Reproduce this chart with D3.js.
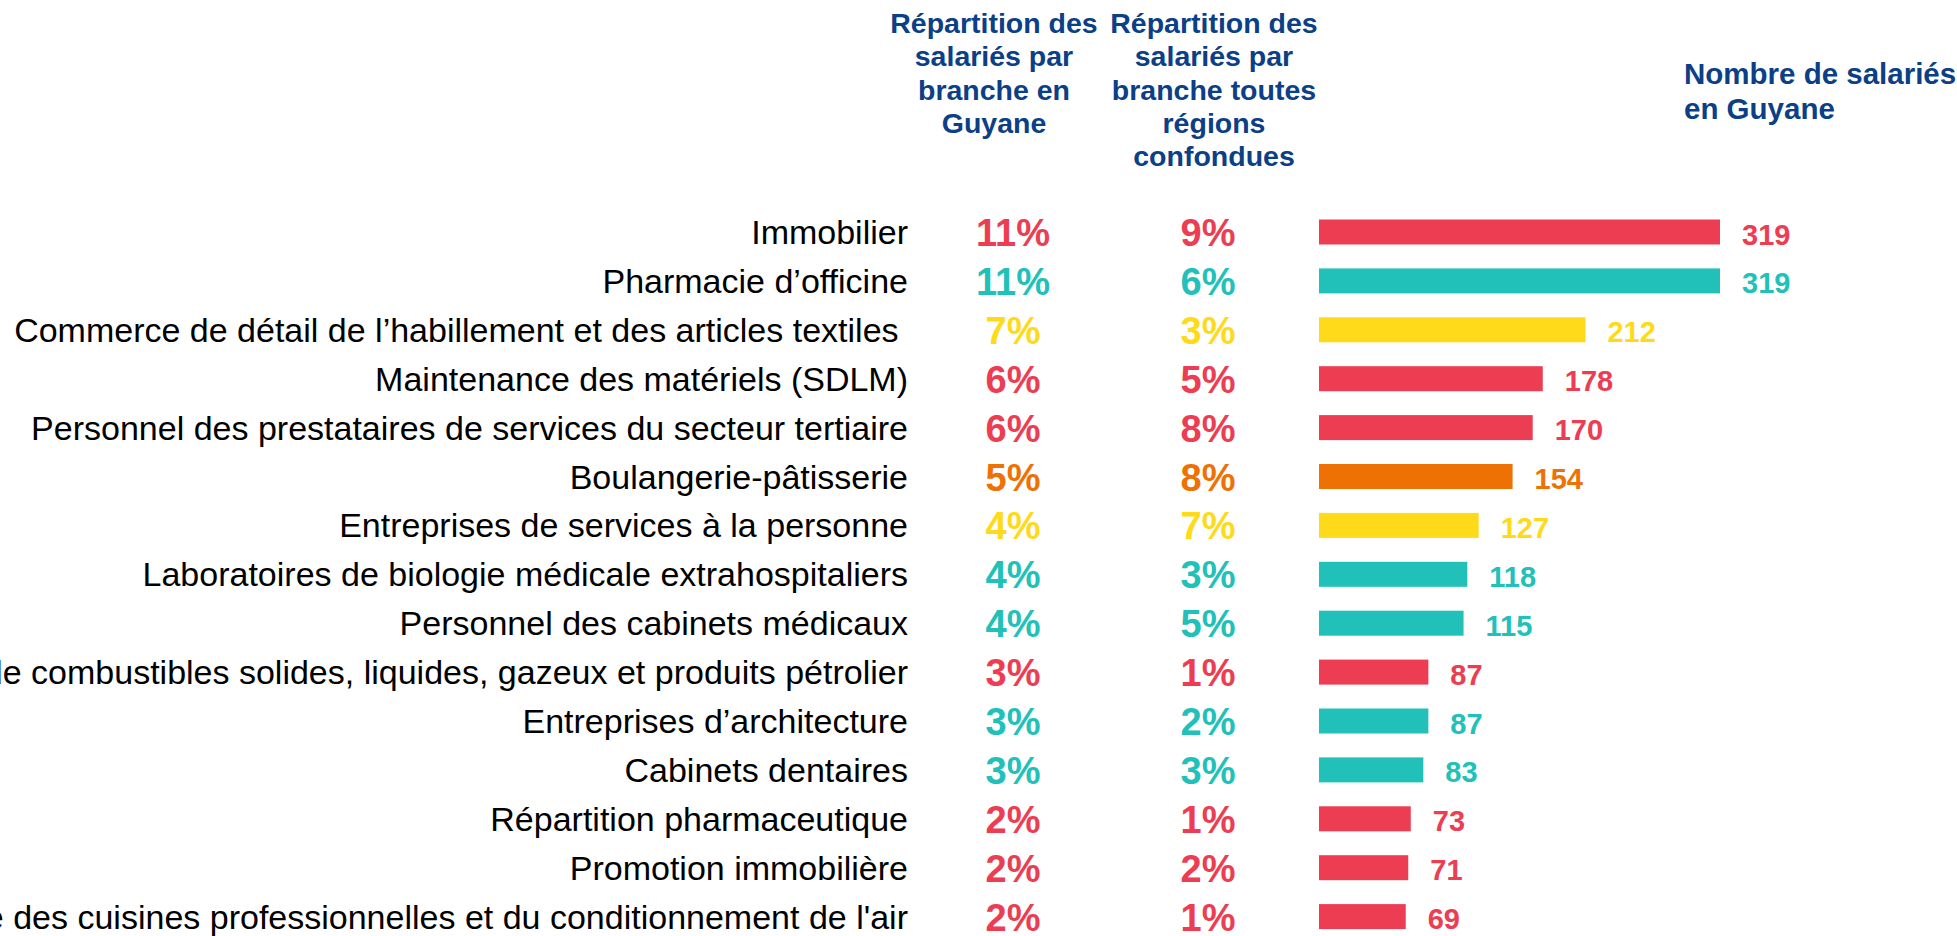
<!DOCTYPE html>
<html>
<head>
<meta charset="utf-8">
<script src="https://cdn.jsdelivr.net/npm/d3@7"></script>
<style>
  body { margin: 0; background: #fff; }
  svg { display: block; font-family: "Liberation Sans", Arial, sans-serif; }
</style>
</head>
<body>
<svg id="chart" width="1957" height="936"></svg>
<script>
// data
const branches = [
  "Immobilier",
  "Pharmacie d’officine",
  "Commerce de détail de l’habillement et des articles textiles ",
  "Maintenance des matériels (SDLM)",
  "Personnel des prestataires de services du secteur tertiaire",
  "Boulangerie-pâtisserie",
  "Entreprises de services à la personne",
  "Laboratoires de biologie médicale extrahospitaliers",
  "Personnel des cabinets médicaux",
  "Commerce de gros de combustibles solides, liquides, gazeux et produits pétrolier",
  "Entreprises d’architecture",
  "Cabinets dentaires",
  "Répartition pharmaceutique",
  "Promotion immobilière",
  "Installation et maintenance des cuisines professionnelles et du conditionnement de l'air"
]
const salaries = [319, 319, 212, 178, 170, 154, 127, 118, 115, 87, 87, 83, 73, 71, 69]
const partGuyane = [11, 11, 7, 6, 6, 5, 4, 4, 4, 3, 3, 3, 2, 2, 2]
const partToutes = [9, 6, 3, 5, 8, 8, 7, 3, 5, 1, 2, 3, 1, 2, 1]
const groupe = ["r", "t", "y", "r", "r", "o", "y", "t", "t", "r", "t", "t", "r", "r", "r"]

const header1 = ["Répartition des", "salariés par", "branche en", "Guyane"]
const header2 = ["Répartition des", "salariés par", "branche toutes", "régions", "confondues"]
const header3 = ["Nombre de salariés", "en Guyane"]

const colors = {r: "#EC3D52", t: "#21C1BA", y: "#FFDA1A", o: "#EE7203"}
const blue = "#0B4086"

const rows = branches.map((b, i) => ({
  name: b, n: salaries[i], g: partGuyane[i], all: partToutes[i], c: colors[groupe[i]]
}))

const svg = d3.select('#chart')

const y = d3.scalePoint()
  .domain(branches)
  .range([232, 916.6])

const x = d3.scaleLinear()
  .domain([0, 319])
  .range([1319, 1720])

const barH = 25

// headers
function header(lines, cx, anchor, y0, step, size) {
  svg.append('text')
    .attr('text-anchor', anchor)
    .attr('font-weight', 'bold')
    .attr('font-size', size)
    .attr('fill', blue)
    .selectAll('tspan')
    .data(lines)
    .enter()
    .append('tspan')
    .attr('x', cx)
    .attr('y', (d, i) => y0 + i * step)
    .text(d => d)
}
header(header1, 994, 'middle', 33, 33.3, 28.5)
header(header2, 1214, 'middle', 33, 33.3, 28.5)
header(header3, 1684, 'start', 84, 35, 29.5)

// category labels
svg.selectAll('text.label')
  .data(rows)
  .enter()
  .append('text')
  .attr('class', 'label')
  .attr('x', 908)
  .attr('y', d => y(d.name) + 12)
  .attr('text-anchor', 'end')
  .attr('font-size', 34)
  .attr('fill', '#000')
  .style('white-space', 'pre')
  .text(d => d.name)

// percentage columns
svg.selectAll('text.pg')
  .data(rows)
  .enter()
  .append('text')
  .attr('class', 'pg')
  .attr('x', 1013)
  .attr('y', d => y(d.name) + 14)
  .attr('text-anchor', 'middle')
  .attr('font-size', 38)
  .attr('font-weight', 'bold')
  .attr('fill', d => d.c)
  .text(d => d.g + '%')

svg.selectAll('text.pa')
  .data(rows)
  .enter()
  .append('text')
  .attr('class', 'pa')
  .attr('x', 1208)
  .attr('y', d => y(d.name) + 14)
  .attr('text-anchor', 'middle')
  .attr('font-size', 38)
  .attr('font-weight', 'bold')
  .attr('fill', d => d.c)
  .text(d => d.all + '%')

// bars
svg.selectAll('rect.bar')
  .data(rows)
  .enter()
  .append('rect')
  .attr('class', 'bar')
  .attr('x', x(0))
  .attr('y', d => y(d.name) - barH / 2)
  .attr('width', d => x(d.n) - x(0))
  .attr('height', barH)
  .attr('fill', d => d.c)

svg.selectAll('text.val')
  .data(rows)
  .enter()
  .append('text')
  .attr('class', 'val')
  .attr('x', d => x(d.n) + 22)
  .attr('y', d => y(d.name) + 12.5)
  .attr('font-size', 29)
  .attr('font-weight', 'bold')
  .attr('fill', d => d.c)
  .text(d => d.n)
</script>
</body>
</html>
